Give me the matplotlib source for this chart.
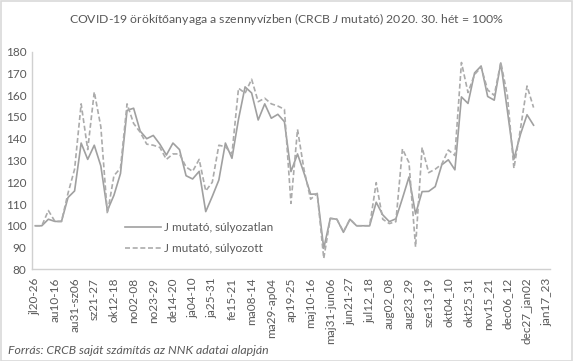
import matplotlib
matplotlib.use("Agg")
import matplotlib.pyplot as plt
from matplotlib.patches import Rectangle

plt.rcParams['font.family'] = ['Lato', 'DejaVu Sans']
plt.rcParams['mathtext.fontset'] = 'custom'
plt.rcParams['mathtext.rm'] = 'Lato'
plt.rcParams['mathtext.it'] = 'Lato:italic'

tick_labels = ["jl20-26", "au10-16", "au31-sz06", "sz21-27", "ok12-18", "no02-08", "no23-29",
               "de14-20", "ja04-10", "ja25-31", "fe15-21", "ma08-14", "ma29-ap04", "ap19-25",
               "maj10-16", "maj31-jun06", "jun21-27", "jul12_18", "aug02_08", "aug23_29",
               "sze13_19", "okt04_10", "okt25_31", "nov15_21", "dec06_12", "dec27_jan02", "jan17_23"]

unweighted = [100, 100, 103, 102, 102, 113, 116, 138, 130.5, 137, 127.5, 107, 114, 124, 153, 154,
              143.5, 140, 141.5, 137.5, 132.5, 138, 135, 123, 121.5, 125, 106.5, 113.5, 121, 138,
              131, 149, 163.8, 161, 148.6, 156, 149.4, 151.2, 147.8, 124.9, 133, 124.1, 114.5,
              114.6, 89.6, 103.4, 103, 97, 103, 100, 100, 100, 110.8, 105, 101.9, 103.2, 112.6,
              122.4, 105.4, 115.7, 115.8, 118, 128, 130.3, 125.7, 159.2, 156.2, 170.2, 173.4,
              159.4, 157.7, 174.8, 153, 130.6, 142, 151, 146.2]

weighted = [100, 100, 107, 102, 102, 115, 126, 156, 135, 161.5, 145.5, 105.5, 123, 126.5, 156, 147,
            143, 137.5, 137, 136, 130.5, 133, 133, 127, 125, 130.5, 116, 120, 137, 136.3,
            133, 163.2, 160.9, 167.3, 157, 158.6, 156, 155, 153.5, 110.3, 144.3, 125.6, 112.2,
            114.9, 85, 103.4, 103, 97.3, 103, 100, 100, 100, 119.8, 103, 101, 101.9, 135.3,
            129, 90.3, 136, 124.4, 126, 128.3, 134.8, 132.3, 175, 161.2, 169.5, 172.8,
            162.4, 159.9, 175, 160, 126.4, 144.5, 164.2, 154.3]

label_unweighted = "J mutató, súlyozatlan"
label_weighted = "J mutató, súlyozott"

tick_step = 3
text_col = "#595959"

fig = plt.figure(figsize=(5.73, 3.61), dpi=100)
fig.patches.append(Rectangle((0.001, 0.001), 0.997, 0.996, transform=fig.transFigure,
                             fill=False, edgecolor="#d9d9d9", linewidth=1.2))

ax = fig.add_axes([0.0558, 0.254, 0.904, 0.603])
x = list(range(len(unweighted)))
ax.plot(x, unweighted, color="#a0a0a0", linewidth=1.2, label=label_unweighted)
ax.plot(x, weighted, color="#ababab", linewidth=1.2, linestyle=(0, (3, 1.6)), label=label_weighted)

ax.set_ylim(80, 180)
ax.set_yticks(range(80, 181, 10))
ax.set_xlim(-0.5, tick_step * (len(tick_labels) - 1) + 0.5)
ax.set_xticks([i * tick_step for i in range(len(tick_labels))])
ax.set_xticklabels(tick_labels, rotation=90)
ax.tick_params(axis='both', length=0, colors=text_col, labelsize=8.5)
ax.tick_params(axis='x', pad=6)
ax.tick_params(axis='y', pad=4)

for s in ["top", "right"]:
    ax.spines[s].set_visible(False)
for s in ["left", "bottom"]:
    ax.spines[s].set_color("#d0d0d0")
    ax.spines[s].set_linewidth(1.0)

leg = ax.legend(loc="upper left", bbox_to_anchor=(0.16, 0.265), frameon=False,
                fontsize=8.5, handlelength=3.0, handletextpad=0.3, labelspacing=0.85,
                labelcolor=text_col)

fig.text(0.5, 0.948, "COVID-19 örökítőanyaga a szennyvízben (CRCB $\\mathit{J}$ mutató) 2020. 30. hét = 100%",
         ha="center", va="center", fontsize=8.8, color=text_col)
fig.text(0.014, 0.03, "Forrás: CRCB saját számítás az NNK adatai alapján",
         ha="left", va="center", fontsize=8.8, color=text_col, style="italic")

fig.savefig("out.png", dpi=100)
